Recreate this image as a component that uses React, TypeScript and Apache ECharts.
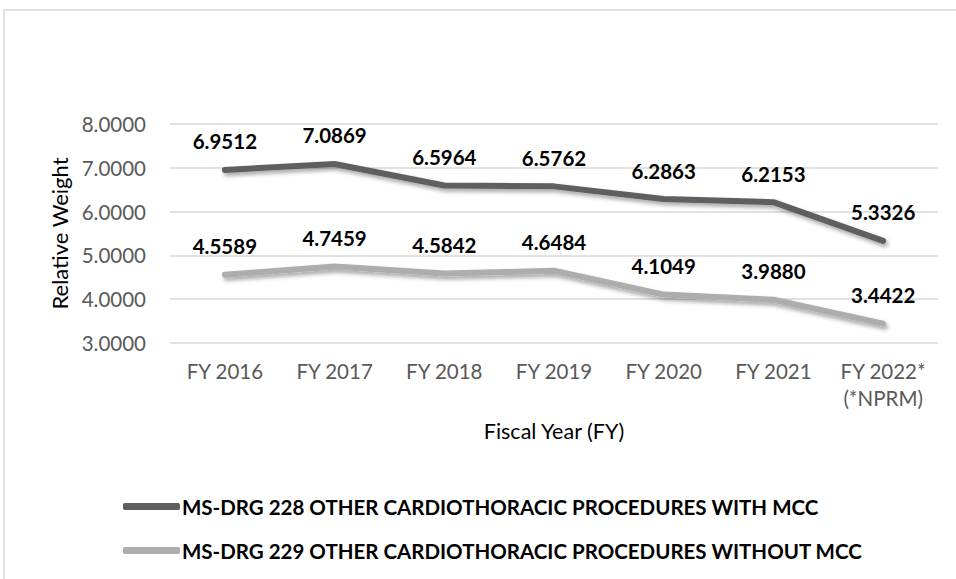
import React, { useEffect, useRef } from "react";
import * as echarts from "echarts";

const categories = ["FY 2016", "FY 2017", "FY 2018", "FY 2019", "FY 2020", "FY 2021", "FY 2022*\n(*NPRM)"];
const drg228 = [6.9512, 7.0869, 6.5964, 6.5762, 6.2863, 6.2153, 5.3326];
const drg229 = [4.5589, 4.7459, 4.5842, 4.6484, 4.1049, 3.988, 3.4422];
const seriesNames = [
  "MS-DRG 228 OTHER CARDIOTHORACIC PROCEDURES WITH MCC",
  "MS-DRG 229 OTHER CARDIOTHORACIC PROCEDURES WITHOUT MCC",
];

const FONT = "Lato, 'Open Sans', sans-serif";

export default function App() {
  const ref = useRef<HTMLDivElement>(null);
  useEffect(() => {
    if (!ref.current) return;
    const chart = echarts.init(ref.current, undefined, { renderer: "svg" });
    const mkSeries = (name: string, data: number[], color: string) => ({
      name,
      type: "line",
      data,
      symbol: "circle",
      symbolSize: 2,
      showSymbol: true,
      lineStyle: {
        color,
        width: 6,
        cap: "round",
        join: "round",
        shadowColor: "rgba(0,0,0,0.35)",
        shadowBlur: 4,
        shadowOffsetX: 2,
        shadowOffsetY: 3,
      },
      itemStyle: { color },
      label: {
        show: true,
        position: "top",
        distance: 17,
        formatter: (p: any) => Number(p.value).toFixed(4),
        color: "#000",
        fontWeight: "bold",
        fontSize: 20.5,
        fontFamily: FONT,
      },
    });
    chart.setOption({
      animation: false,
      backgroundColor: "#fff",
      graphic: [
        {
          type: "rect",
          shape: { x: 4, y: 10, width: 1200, height: 1000 },
          style: { fill: "none", stroke: "#d9d9d9", lineWidth: 1.5 },
          silent: true,
          z: -1,
        },
      ],
      grid: { left: 170, right: 18, top: 124, bottom: 236 },
      legend: {
        orient: "vertical",
        left: 118,
        top: 491,
        itemGap: 23,
        itemWidth: 57,
        itemHeight: 7,
        icon: "roundRect",
        textStyle: { color: "#000", fontWeight: "bold", fontSize: 20.5, fontFamily: FONT, padding: [0, 0, 0, -3] },
        data: seriesNames,
      },
      xAxis: {
        type: "category",
        data: categories,
        boundaryGap: true,
        axisLine: { show: false },
        axisTick: { show: false },
        axisLabel: {
          interval: 0,
          color: "#595959",
          fontSize: 20.5,
          fontFamily: FONT,
          margin: 14,
          lineHeight: 27,
          verticalAlign: "top",
        },
        name: "Fiscal Year (FY)",
        nameLocation: "middle",
        nameGap: 77,
        nameTextStyle: { color: "#000", fontSize: 21.5, fontFamily: FONT },
      },
      yAxis: {
        type: "value",
        min: 3,
        max: 8,
        interval: 1,
        axisLine: { show: false },
        axisTick: { show: false },
        splitLine: { lineStyle: { color: "#d9d9d9", width: 1.5 } },
        axisLabel: {
          color: "#595959",
          fontSize: 20.5,
          fontFamily: FONT,
          margin: 24,
          formatter: (v: number) => v.toFixed(4),
        },
        name: "Relative Weight",
        nameLocation: "middle",
        nameGap: 98,
        nameRotate: 90,
        nameTextStyle: { color: "#000", fontSize: 22, fontFamily: FONT },
      },
      series: [mkSeries(seriesNames[0], drg228, "#5f5f5f"), mkSeries(seriesNames[1], drg229, "#adadad")],
    });
    return () => chart.dispose();
  }, []);
  return <div ref={ref} style={{ position: "absolute", left: 0, top: 0, width: 956, height: 579 }} />;
}
